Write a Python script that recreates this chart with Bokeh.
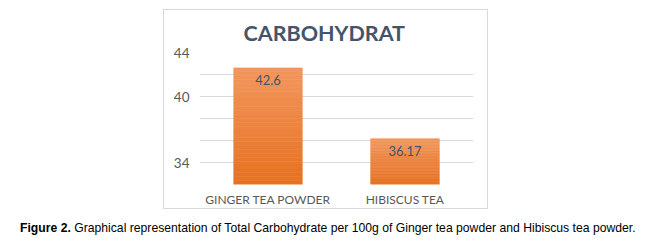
from bokeh.plotting import figure
from bokeh.layouts import column
from bokeh.models import FixedTicker, LabelSet, ColumnDataSource, Range1d, Div
from bokeh.core.properties import value
from bokeh.embed import file_html
from bokeh.resources import INLINE

categories = ["GINGER TEA POWDER", "HIBISCUS TEA"]
carbohydrate = [42.6, 36.17]
value_labels = ["42.6", "36.17"]
y_tick_labels = [34, 40, 44]
grid_ticks = [32, 34, 36, 38, 40, 42, 44]
title_text = "CARBOHYDRAT"
caption_bold = "Figure 2."
caption_rest = "Graphical representation of Total Carbohydrate per 100g of Ginger tea powder and Hibiscus tea powder."

Y_MIN, Y_MAX = 32, 44
TOP_RGB = (242, 151, 94)
BOT_RGB = (230, 113, 32)
N_SEG = 30

p = figure(x_range=categories, y_range=Range1d(Y_MIN, Y_MAX), width=325, height=200,
           output_backend="svg", toolbar_location=None,
           min_border_left=35, min_border_right=16, min_border_top=42, min_border_bottom=26,
           margin=(9, 0, 0, 163))
p.styles = {"border": "1px solid #D9D9D9"}
p.outline_line_color = None
p.background_fill_color = "white"
p.border_fill_color = "white"

p.title.text = title_text
p.title.align = "left"
p.title.offset = 44
p.title.text_font = "Lato"
p.title.text_font_style = "bold"
p.title.text_font_size = "21.5px"
p.title.text_color = "#44546A"
p.title.standoff = 14

# gradient bars
xs, bots, tops, cols = [], [], [], []
for c, v in zip(categories, carbohydrate):
    h = v - Y_MIN
    for i in range(N_SEG):
        b = Y_MIN + h * i / N_SEG
        t = Y_MIN + h * (i + 1) / N_SEG
        f = (i + 0.5) / N_SEG
        rgb = tuple(int(round(BOT_RGB[k] + (TOP_RGB[k] - BOT_RGB[k]) * f)) for k in range(3))
        xs.append(c); bots.append(b); tops.append(t)
        cols.append("#%02x%02x%02x" % rgb)
p.vbar(x=xs, bottom=bots, top=tops, width=0.5, fill_color=cols, line_color=cols, line_width=0.6)

src = ColumnDataSource(dict(cat=categories, val=carbohydrate, lbl=value_labels))
p.add_layout(LabelSet(x="cat", y="val", text="lbl", source=src, y_offset=-7,
                      text_align="center", text_baseline="top", text_font=value("Lato"),
                      text_font_size="13px", text_color="#44546A"))

# grid / axes
p.xgrid.visible = False
p.ygrid.ticker = FixedTicker(ticks=grid_ticks)
p.ygrid.grid_line_color = "#D9D9D9"
p.ygrid.grid_line_width = 1
p.yaxis.ticker = FixedTicker(ticks=y_tick_labels)
for ax in (p.xaxis[0], p.yaxis[0]):
    ax.axis_line_color = None
    ax.major_tick_line_color = None
    ax.minor_tick_line_color = None
    ax.major_tick_out = 0
    ax.major_tick_in = 0
    ax.major_label_text_color = "#595959"
    ax.major_label_text_font = "Lato"
p.yaxis.major_label_text_font_size = "13.5px"
p.yaxis.major_label_standoff = 10
p.xaxis.major_label_text_font_size = "12px"
p.xaxis.major_label_standoff = 7

caption = Div(text="<b>%s</b> %s" % (caption_bold, caption_rest), width=640,
              margin=(11, 0, 0, 20),
              styles={"font-family": "'Liberation Sans', Arial, sans-serif",
                      "font-size": "12.2px", "color": "#000000", "white-space": "nowrap"})

layout = column(p, caption, spacing=0)
open("out.html", "w").write(file_html(layout, INLINE))
